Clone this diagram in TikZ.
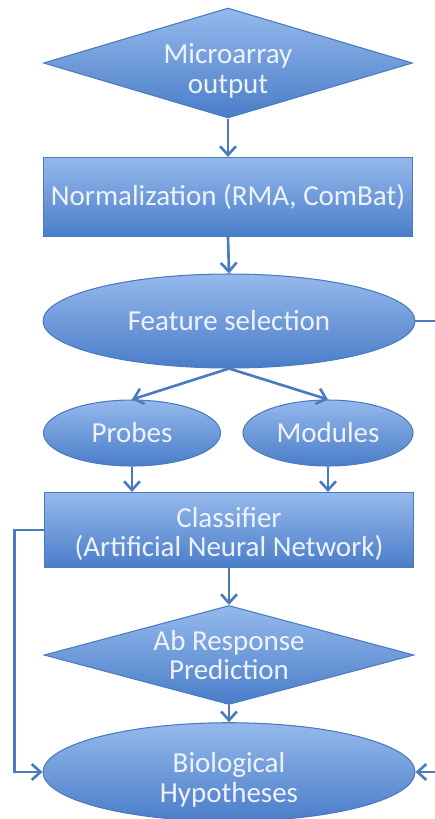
\documentclass[tikz,border=0pt]{standalone}
\usepackage{fontspec}
\setmainfont{Carlito}
\usetikzlibrary{shapes.geometric,arrows.meta,positioning,calc}

\definecolor{flowtop}{HTML}{95B9EC}
\definecolor{flowbot}{HTML}{4A7DC9}
\definecolor{flowline}{HTML}{4A7BBE}
\definecolor{flowtext}{HTML}{EEF3FB}

% taller first line, pushes two-line labels down a little
\newcommand{\flowstrut}{\rule{0pt}{20pt}}

\tikzset{
  flowbase/.style={draw=flowline, line width=0.6pt, top color=flowtop, bottom color=flowbot,
    text=flowtext, font=\fontsize{16.5}{17}\selectfont, align=center, inner sep=0pt},
  decision/.style={flowbase, diamond, aspect=3.35},
  process/.style={flowbase, rectangle},
  terminal/.style={flowbase, ellipse},
  flowarrow/.style={draw=flowline, line width=1.5pt, -{Straight Barb[length=5pt,width=9pt]}}
}

\begin{document}
\begin{tikzpicture}[x=0.02cm,y=-0.02cm]
    \useasboundingbox (0,0) rectangle (434,819);

    % Input and preprocessing
    \node[decision, minimum width=7.38cm, minimum height=2.2cm] (micro) at (228,63) {\flowstrut Microarray\\output};
    \node[process, minimum width=7.4cm, minimum height=1.58cm] (norm) at (228,197) {Normalization (RMA, ComBat)};
    \node[terminal, minimum width=7.44cm, minimum height=1.88cm] (feat) at (229,321) {Feature selection};

    % Features
    \node[terminal, minimum width=3.54cm, minimum height=1.32cm] (probes) at (132,433) {Probes};
    \node[terminal, minimum width=3.4cm, minimum height=1.32cm] (modules) at (328,433) {Modules};

    % Classification and outcome
    \node[process, minimum width=7.4cm, minimum height=1.5cm] (clf) at (229,530) {\rule{0pt}{16pt}Classifier\\(Artificial Neural Network)};
    \node[decision, minimum width=7.4cm, minimum height=1.98cm] (ab) at (229,655) {Ab Response\\Prediction};
    \node[terminal, minimum width=7.44cm, minimum height=1.8cm] (bio) at (229,772) {\flowstrut Biological\\Hypotheses};

    % Main flow
    \draw[flowarrow] (micro.south) -- (norm.north);
    \draw[flowarrow] (norm.south) -- (feat.north);
    \draw[flowarrow] (feat.south) -- (probes.north);
    \draw[flowarrow] (feat.south) -- (modules.north);
    \draw[flowarrow] (probes.south) -- (probes.south |- clf.north);
    \draw[flowarrow] (modules.south) -- (modules.south |- clf.north);
    \draw[flowarrow] (clf.south) -- (ab.north);
    \draw[flowarrow] (ab.south) -- (bio.north);

    % Side paths
    \draw[flowarrow] (clf.west) -- ++(-29,0) |- (bio.west);
    \draw[flowarrow] (feat.east) -- ++(40,0) |- (bio.east);
\end{tikzpicture}
\end{document}
